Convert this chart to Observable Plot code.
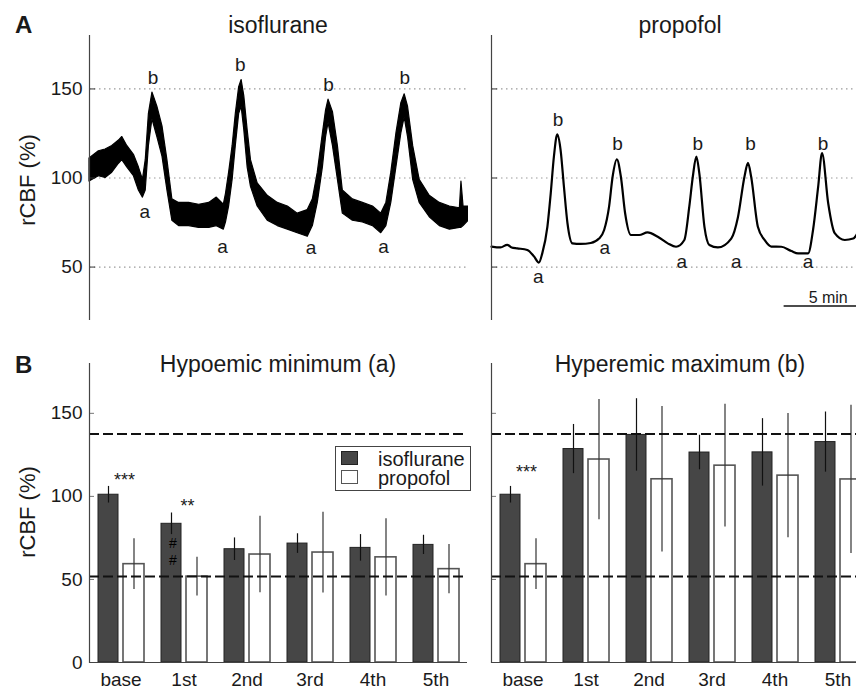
<!DOCTYPE html>
<html><head><meta charset="utf-8">
<script src="https://cdn.jsdelivr.net/npm/d3@7"></script>
<script src="https://cdn.jsdelivr.net/npm/@observablehq/plot@0.6"></script>
<style>
body{margin:0;background:#fff;overflow:hidden;font-family:"Liberation Sans",Arial,sans-serif;color:#1a1a1a;}
#wrap{position:relative;width:856px;height:691px;overflow:hidden;background:#fff;}
.abs{position:absolute;white-space:nowrap;line-height:1;}
.title{font-size:23px;width:400px;text-align:center;}
.letter{font-size:24px;font-weight:bold;}
.ylab{font-size:22px;transform:translate(-50%,-50%) rotate(-90deg);}
#legend{position:absolute;left:335px;top:446px;width:136px;height:45px;border:1px solid #444;background:#fff;z-index:5;box-sizing:border-box;}
#legend .sw{position:absolute;left:5px;width:17px;height:14px;box-sizing:border-box;}
#legend .tx{position:absolute;left:42px;top:3px;font-size:20px;line-height:19px;white-space:pre;}
</style></head><body><div id="wrap"></div>
<script>
// ---------- Panel A: traces (time in minutes, rCBF in %) ----------
const isoTime = [0, 0.53, 0.91, 1.29, 1.67, 1.86, 2.14, 2.52, 2.80, 3.03, 3.19, 3.37, 3.57, 3.85, 4.14, 4.42, 4.70, 5.08, 5.65, 6.22, 6.79, 7.22, 7.62, 7.74, 7.92, 8.12, 8.30, 8.49, 8.63, 8.78, 8.97, 9.16, 9.54, 10.11, 10.68, 11.25, 11.81, 12.38, 12.67, 12.95, 13.24, 13.42, 13.56, 13.81, 14.09, 14.37, 14.94, 15.51, 16.08, 16.55, 16.84, 17.12, 17.41, 17.69, 17.88, 18.07, 18.36, 18.73, 19.30, 19.87, 20.44, 21.01, 21.10, 21.22, 21.5];
const isoLow = [98, 101, 100, 103, 108, 110, 106, 101, 93, 89, 93, 118, 133, 123, 112, 93, 76, 73, 73, 72, 72, 73, 71, 75, 84, 99, 118, 136, 140, 127, 106, 95, 84, 76, 73, 71, 69, 67, 73, 86, 106, 123, 131, 118, 99, 80, 76, 75, 73, 69, 73, 86, 106, 125, 134, 123, 99, 86, 78, 73, 71, 72, 72, 73, 76];
const isoHigh = [111, 115, 116, 118, 121, 123, 118, 113, 106, 99, 110, 136, 148, 140, 129, 110, 88, 86, 86, 85, 86, 89, 85, 91, 103, 118, 136, 151, 155, 146, 127, 110, 97, 90, 86, 84, 80, 82, 88, 103, 125, 138, 144, 137, 118, 93, 88, 86, 84, 80, 86, 103, 125, 142, 147, 140, 118, 99, 90, 86, 84, 83, 98, 84, 84];

const propTime = [0, 0.51, 0.89, 1.14, 1.46, 2.03, 2.41, 2.69, 2.88, 3.17, 3.36, 3.54, 3.73, 3.92, 4.11, 4.31, 4.59, 5.06, 5.63, 6.10, 6.39, 6.67, 6.87, 7.11, 7.34, 7.58, 7.91, 8.38, 8.85, 9.43, 10.0, 10.47, 10.94, 11.22, 11.42, 11.62, 11.79, 12.08, 12.36, 12.84, 13.60, 13.98, 14.35, 14.55, 14.73, 15.11, 15.49, 15.87, 16.44, 17.01, 17.39, 17.96, 18.24, 18.53, 18.75, 19.10, 19.47, 20.04, 20.52, 20.76];
const propValue = [61.5, 61, 62.5, 61, 60.5, 59.6, 56, 52.5, 57.7, 72.6, 91.4, 112, 124.5, 115.7, 95, 74.6, 63.3, 63, 63.5, 66, 70.8, 83.9, 100.7, 110.5, 100.7, 80.2, 68, 68, 69.5, 67, 63.3, 61.4, 65.2, 83.9, 100.7, 112, 102.6, 72.6, 62.4, 61, 66, 78, 100.7, 108.5, 100.7, 72.6, 65.2, 61.5, 61.4, 59, 57.7, 57.7, 70.8, 95, 114, 85.8, 69, 65.2, 66, 69];

const isoMarkText = ["a", "b", "a", "b", "a", "b", "a", "b"];
const isoMarkTime = [3.13, 3.6, 7.55, 8.55, 12.57, 13.56, 16.68, 17.88];
const isoMarkValue = [81, 156, 61.4, 163.5, 60.5, 152.2, 61.4, 156];

const propMarkText = ["a", "b", "a", "b", "a", "b", "a", "b", "a", "b"];
const propMarkTime = [2.66, 3.77, 6.43, 7.15, 10.79, 11.7, 13.88, 14.69, 17.96, 18.81];
const propMarkValue = [44.5, 132.6, 61, 119, 53, 119, 53, 119, 53, 119];

const traceTicks = [50, 100, 150];
const scaleBarStart = 16.6, scaleBarEnd = 21.6, scaleBarValue = 28.1, scaleBarLabel = "5 min", scaleBarLabelValue = 32.6;

// ---------- Panel B: bars ----------
const categories = ["base", "1st", "2nd", "3rd", "4th", "5th"];
const minIso = [101, 83.5, 68.2, 71.6, 69, 70.8];
const minIsoErr = [5, 6.5, 6.8, 5.9, 8, 5.8];
const minProp = [59.2, 51.7, 65, 66.2, 63.3, 56.2];
const minPropErr = [15.3, 11.7, 23, 24.3, 23.3, 14.8];
const maxIso = [101, 128.5, 137, 126.4, 126.5, 132.7];
const maxIsoErr = [5, 14.8, 21.8, 10.4, 20.3, 18.1];
const maxProp = [59.2, 122.2, 110.3, 118.5, 112.5, 110.2];
const maxPropErr = [15.3, 36.2, 43.8, 37, 37.4, 44.6];
const refLines = [137.5, 51.8];
const barTicks = [0, 50, 100, 150];

const minStars = [{cat: "base", text: "***", v: 110}, {cat: "1st", text: "**", v: 94}];
const minHashes = [{cat: "1st", text: "#", v: 71.5}, {cat: "1st", text: "#", v: 61.4}];
const maxStars = [{cat: "base", text: "***", v: 114.4}];

const legendItems = ["isoflurane", "propofol"];
const legendFills = ["#464646", "#fff"];

const FONT = "'Liberation Sans', Arial, sans-serif";
const INK = "#1a1a1a";
const wrap = document.getElementById("wrap");

function place(el, left, top) {
  el.style.position = "absolute"; el.style.left = left + "px"; el.style.top = top + "px";
  wrap.appendChild(el);
}

function tracePanel({rowsMarks, labels, showTickLabels, width, marginLeft, extra = []}) {
  return Plot.plot({
    width, height: 330, marginTop: 35, marginBottom: 10, marginLeft, marginRight: 0,
    style: {fontFamily: FONT, background: "transparent", color: INK},
    x: {domain: [0, 21.5], axis: null},
    y: {domain: [20, 180], axis: null},
    marks: [
      Plot.ruleY(traceTicks, {stroke: "#9a9a9a", strokeDasharray: "1.5,3.5", strokeWidth: 1.2}),
      ...rowsMarks,
      Plot.text(labels, {x: "t", y: "v", text: "s", fontSize: 19, fill: INK}),
      ...extra,
      Plot.axisY({ticks: traceTicks, tickSize: -6, tickPadding: 13, fontSize: 19, label: null,
        stroke: "#333", fill: INK, tickFormat: showTickLabels ? d3.format("d") : () => ""}),
      Plot.ruleX([0], {stroke: "#444", strokeWidth: 1.2})
    ]
  });
}

const isoRows = isoTime.map((t, i) => ({t, lo: isoLow[i], hi: isoHigh[i]}));
const propRows = propTime.map((t, i) => ({t, v: propValue[i]}));
const isoLabels = isoMarkText.map((s, i) => ({s, t: isoMarkTime[i], v: isoMarkValue[i]}));
const propLabels = propMarkText.map((s, i) => ({s, t: propMarkTime[i], v: propMarkValue[i]}));

const topLeft = tracePanel({
  width: 468, marginLeft: 89, showTickLabels: true, labels: isoLabels,
  rowsMarks: [
    Plot.areaY(isoRows, {x: "t", y1: "lo", y2: "hi", fill: "#000", stroke: "#000", strokeWidth: 1.2}),
  ]
});
place(topLeft, 0, 0);

const topRight = tracePanel({
  width: 400, marginLeft: 21, showTickLabels: false, labels: propLabels,
  rowsMarks: [
    Plot.line(propRows, {x: "t", y: "v", stroke: "#000", strokeWidth: 2.2, curve: "monotone-x"})
  ],
  extra: [
    Plot.ruleY([scaleBarValue], {x1: scaleBarStart, x2: scaleBarEnd, stroke: "#111", strokeWidth: 1.5}),
    Plot.text([scaleBarLabel], {x: (scaleBarStart + scaleBarEnd) / 2, y: scaleBarLabelValue, fontSize: 16, fill: INK})
  ]
});
place(topRight, 470, 0);

function barPanel({iso, isoErr, prop, propErr, stars, hashes = [], showTickLabels, width, marginLeft}) {
  const isoRowsB = categories.map((cat, i) => ({cat, v: iso[i], e: isoErr[i]}));
  const propRowsB = categories.map((cat, i) => ({cat, v: prop[i], e: propErr[i]}));
  return Plot.plot({
    width, height: 361, marginTop: 33, marginBottom: 29, marginLeft, marginRight: 0,
    style: {fontFamily: FONT, background: "transparent", color: INK},
    x: {domain: categories, paddingInner: 0, paddingOuter: 0, axis: null},
    y: {domain: [0, 180], axis: null},
    marks: [
      Plot.barY(isoRowsB, {x: "cat", y: "v", fill: legendFills[0], stroke: "#222", strokeWidth: 1, insetLeft: 9, insetRight: 34}),
      Plot.barY(propRowsB, {x: "cat", y: "v", fill: legendFills[1], stroke: "#555", strokeWidth: 1.6, insetLeft: 34, insetRight: 8}),
      Plot.ruleX(isoRowsB, {x: "cat", y1: d => d.v - d.e, y2: d => d.v + d.e, dx: -12.5, stroke: "#111", strokeWidth: 1.2}),
      Plot.ruleX(propRowsB, {x: "cat", y1: d => d.v - d.e, y2: d => d.v + d.e, dx: 13, stroke: "#333", strokeWidth: 1.2}),
      Plot.ruleY(refLines, {stroke: "#111", strokeWidth: 2, strokeDasharray: "10,4"}),
      Plot.text(stars, {x: "cat", y: "v", text: "text", dx: 3.5, fontSize: 18, fill: INK}),
      Plot.text(hashes, {x: "cat", y: "v", text: "text", dx: -11, fontSize: 14, fill: "#000"}),
      Plot.axisY({ticks: barTicks, tickSize: -5, tickPadding: 12, fontSize: 19, label: null,
        stroke: "#777", fill: INK, tickFormat: showTickLabels ? d3.format("d") : () => ""}),
      Plot.axisX({tickSize: 0, tickPadding: 10, fontSize: 19, label: null, fill: INK}),
      Plot.ruleY([0], {stroke: "#444", strokeWidth: 1.2}),
      Plot.frame({anchor: "left", stroke: "#444", strokeWidth: 1.2})
    ]
  });
}

const botLeft = barPanel({iso: minIso, isoErr: minIsoErr, prop: minProp, propErr: minPropErr,
  stars: minStars, hashes: minHashes, showTickLabels: true, width: 467, marginLeft: 89});
place(botLeft, 0, 330);

const botRight = barPanel({iso: maxIso, isoErr: maxIsoErr, prop: maxProp, propErr: maxPropErr,
  stars: maxStars, showTickLabels: false, width: 399, marginLeft: 21});
place(botRight, 470, 330);

// ---------- Text overlays ----------
function addText(cls, text, left, top) {
  const d = document.createElement("div"); d.className = "abs " + cls; d.textContent = text;
  place(d, left, top); return d;
}
addText("letter", "A", 15, 12.7);
addText("letter", "B", 15, 352.7);
addText("title", "isoflurane", 278 - 200, 13.5);
addText("title", "propofol", 680 - 200, 13.5);
addText("title", "Hypoemic minimum (a)", 278 - 200, 353.2);
addText("title", "Hyperemic maximum (b)", 680 - 200, 353.2);
addText("ylab", "rCBF (%)", 28, 180);
addText("ylab", "rCBF (%)", 28, 511.7);

const leg = document.createElement("div"); leg.id = "legend";
legendItems.forEach((name, i) => {
  const sw = document.createElement("div"); sw.className = "sw";
  sw.style.top = (i === 0 ? 4 : 23) + "px"; sw.style.background = legendFills[i];
  sw.style.border = i === 0 ? "1px solid #222" : "1.5px solid #555";
  leg.appendChild(sw);
});
const tx = document.createElement("div"); tx.className = "tx"; tx.textContent = legendItems.join("\n");
leg.appendChild(tx);
wrap.appendChild(leg);
</script></body></html>
